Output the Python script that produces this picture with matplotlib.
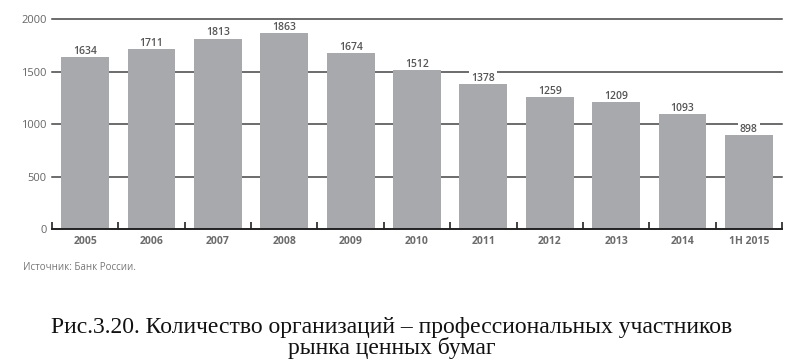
import numpy as np
import matplotlib.pyplot as plt

# data
years = ['2005', '2006', '2007', '2008', '2009', '2010', '2011', '2012', '2013', '2014', '1H 2015']
counts = [1634, 1711, 1813, 1863, 1674, 1512, 1378, 1259, 1209, 1093, 898]
yticks = [0, 500, 1000, 1500, 2000]

source = 'Источник: Банк России.'
caption = 'Рис.3.20. Количество организаций – профессиональных участников\nрынка ценных бумаг'

plt.rcParams['font.family'] = ['Open Sans', 'DejaVu Sans']

fig = plt.figure(figsize=(8, 3.62), dpi=100)
ax = fig.add_axes([0.065, 0.3674, 0.9125, 0.58])

x = np.arange(len(years))
ax.bar(x, counts, width=0.72, color='#a7a9ac', zorder=2)
# labels sit between gridlines and bars so the white box only cuts the lines
for xi, v in zip(x, counts):
    ax.annotate(str(v), (xi, v), xytext=(0, 2.3), textcoords='offset points',
                ha='center', va='baseline', fontsize=7.5, color='#555555',
                fontweight='semibold', zorder=1.5,
                bbox=dict(boxstyle='square,pad=0.2', fc='white', ec='none'))

ax.set_xlim(-0.5, len(years) - 0.5)
ax.set_ylim(0, 2000)
ax.set_yticks(yticks)
ax.set_yticklabels([str(t) for t in yticks], fontsize=8, color='#666666')
ax.tick_params(axis='y', length=0, pad=4)

# separator ticks between categories
ax.set_xticks(np.arange(-0.5, len(years), 1.0))
ax.set_xticklabels([])
ax.tick_params(axis='x', direction='in', length=5, width=1.2, color='#222222')
for xi, lab in zip(x, years):
    ax.text(xi, -70, lab, ha='center', va='top', fontsize=7.5, fontweight='bold',
            color='#6b6b6b')

for t in yticks[1:]:
    ax.axhline(t, color='#444444', lw=1.1, zorder=1, clip_on=False)

for s in ['top', 'right', 'left']:
    ax.spines[s].set_visible(False)
ax.spines['bottom'].set_color('#222222')
ax.spines['bottom'].set_linewidth(1.4)
ax.spines['bottom'].set_zorder(3)

fig.text(23 / 800, 1 - 268 / 362, source, fontsize=7, color='#777777', va='center')
fig.text(0.49, 1 - 338 / 362, caption, fontsize=17, family='Liberation Serif',
         ha='center', va='center', linespacing=0.95, color='#111111')

fig.savefig('out.png', dpi=100)
